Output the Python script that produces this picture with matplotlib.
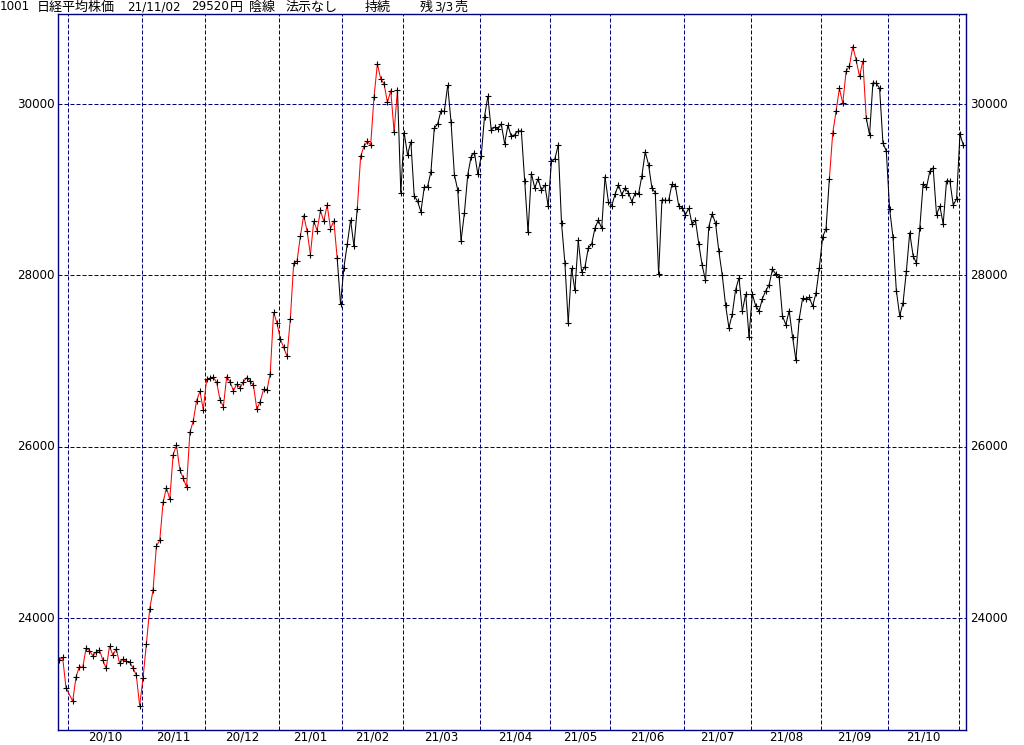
import datetime as dt
import numpy as np
import matplotlib
matplotlib.use("Agg")
import matplotlib.pyplot as plt
from matplotlib.collections import LineCollection

plt.rcParams['font.family'] = ['DejaVu Sans', 'Noto Sans CJK JP']

# ---------------- data (Nikkei 225 daily closes) ----------------
sep20_days = [28, 29, 30]
sep20 = [23511.62, 23539.10, 23185.12]
oct20_days = [2, 5, 6, 7, 8, 9, 12, 13, 14, 15, 16, 19, 20, 21, 22, 23, 26, 27, 28, 29, 30]
oct20 = [23029.90, 23312.14, 23433.73, 23422.82, 23647.07, 23619.69, 23558.69, 23601.78,
         23626.73, 23507.23, 23410.63, 23671.13, 23567.04, 23639.46, 23474.27, 23516.59,
         23494.34, 23485.80, 23418.51, 23331.94, 22977.13]
nov20_days = [2, 4, 5, 6, 9, 10, 11, 12, 13, 16, 17, 18, 19, 20, 24, 25, 26, 27, 30]
nov20 = [23295.48, 23695.23, 24105.28, 24325.23, 24839.84, 24905.59, 25349.60, 25520.88,
         25385.87, 25906.93, 26014.62, 25728.14, 25634.34, 25527.37, 26165.59, 26296.86,
         26537.31, 26644.71, 26433.62]
dec20_days = [1, 2, 3, 4, 7, 8, 9, 10, 11, 14, 15, 16, 17, 18, 21, 22, 23, 24, 25, 28, 29, 30]
dec20 = [26787.54, 26800.98, 26809.37, 26751.24, 26547.44, 26467.08, 26817.94, 26756.24,
         26652.52, 26732.44, 26687.84, 26757.40, 26806.67, 26763.39, 26714.42, 26436.39,
         26524.79, 26668.35, 26656.61, 26854.03, 27568.15, 27444.17]
jan21_days = [4, 5, 6, 7, 8, 12, 13, 14, 15, 18, 19, 20, 21, 22, 25, 26, 27, 28, 29]
jan21 = [27258.38, 27158.63, 27055.94, 27490.13, 28139.03, 28164.34, 28456.59, 28698.26,
         28519.18, 28242.21, 28633.46, 28523.26, 28756.86, 28631.45, 28822.29, 28546.18,
         28635.21, 28197.42, 27663.39]
feb21_days = [1, 2, 3, 4, 5, 8, 9, 10, 12, 15, 16, 17, 18, 19, 22, 24, 25, 26]
feb21 = [28091.05, 28362.17, 28646.50, 28341.95, 28779.19, 29388.50, 29505.93, 29562.93,
         29520.07, 30084.15, 30467.75, 30292.19, 30236.09, 30017.92, 30156.03, 29671.70,
         30168.27, 28966.01]
mar21_days = [1, 2, 3, 4, 5, 8, 9, 10, 11, 12, 15, 16, 17, 18, 19, 22, 23, 24, 25, 26, 29, 30, 31]
mar21 = [29663.50, 29408.17, 29559.10, 28930.11, 28864.32, 28743.25, 29027.94, 29036.56,
         29211.64, 29717.83, 29766.97, 29921.09, 29914.33, 30216.75, 29792.05, 29174.15,
         28995.92, 28405.52, 28729.88, 29176.70, 29384.52, 29432.70, 29178.80]
apr21_days = [1, 2, 5, 6, 7, 8, 9, 12, 13, 14, 15, 16, 19, 20, 21, 22, 23, 26, 27, 28, 30]
apr21 = [29388.87, 29854.00, 30089.25, 29696.63, 29730.79, 29708.98, 29768.06, 29538.73,
         29751.61, 29620.99, 29642.69, 29683.37, 29685.37, 29100.38, 28508.55, 29188.17,
         29020.63, 29126.23, 28991.89, 29053.97, 28812.63]
may21_days = [6, 7, 10, 11, 12, 13, 14, 17, 18, 19, 20, 21, 24, 25, 26, 27, 28, 31]
may21 = [29331.37, 29357.82, 29518.34, 28608.59, 28147.51, 27448.01, 28084.47, 27824.83,
         28406.84, 28044.45, 28098.25, 28317.83, 28364.61, 28553.98, 28642.19, 28549.01,
         29149.41, 28860.08]
jun21_days = [1, 2, 3, 4, 7, 8, 9, 10, 11, 14, 15, 16, 17, 18, 21, 22, 23, 24, 25, 28, 29, 30]
jun21 = [28814.34, 28946.14, 29058.11, 28941.52, 29019.24, 28963.56, 28860.80, 28958.56,
         28948.73, 29161.80, 29441.30, 29291.01, 29018.33, 28964.08, 28010.93, 28884.13,
         28874.89, 28875.23, 29066.18, 29048.02, 28812.61, 28791.53]
jul21_days = [1, 2, 5, 6, 7, 8, 9, 12, 13, 14, 15, 16, 19, 20, 21, 26, 27, 28, 29, 30]
jul21 = [28707.04, 28783.28, 28598.19, 28643.21, 28366.95, 28118.03, 27940.42, 28569.02,
         28718.24, 28608.49, 28279.09, 28003.08, 27652.74, 27388.16, 27548.00, 27833.29,
         27970.22, 27581.66, 27782.42, 27283.59]
aug21_days = [2, 3, 4, 5, 6, 10, 11, 12, 13, 16, 17, 18, 19, 20, 23, 24, 25, 26, 27, 30, 31]
aug21 = [27781.02, 27641.83, 27584.08, 27728.12, 27820.04, 27888.15, 28070.51, 28015.02,
         27977.15, 27523.19, 27424.47, 27585.91, 27281.17, 27013.25, 27494.24, 27732.10,
         27724.80, 27742.29, 27641.14, 27789.29, 28089.54]
sep21_days = [1, 2, 3, 6, 7, 8, 9, 10, 13, 14, 15, 16, 17, 21, 22, 24, 27, 28, 29, 30]
sep21 = [28451.02, 28543.51, 29128.11, 29659.89, 29916.14, 30181.21, 30008.19, 30381.84,
         30447.37, 30670.10, 30511.71, 30323.34, 30500.05, 29839.71, 29639.40, 30248.81,
         30240.06, 30183.96, 29544.29, 29452.66]
oct21_days = [1, 4, 5, 6, 7, 8, 11, 12, 13, 14, 15, 18, 19, 20, 21, 22, 25, 26, 27, 28, 29]
oct21 = [28771.07, 28444.89, 27822.12, 27528.87, 27678.21, 28048.94, 28498.20, 28230.61,
         28140.28, 28550.93, 29068.63, 29025.46, 29215.52, 29255.55, 28708.58, 28804.85,
         28600.41, 29106.01, 29098.24, 28820.09, 28892.69]
nov21_days = [1, 2]
nov21 = [29647.08, 29520.90]

# scheduled session without prices (TSE system outage)
no_price_sessions = [dt.date(2020, 10, 1)]

# periods drawn as the rising (red) signal
up_periods = [(dt.date(2020, 9, 28), dt.date(2021, 1, 28)),
              (dt.date(2021, 2, 5), dt.date(2021, 2, 25)),
              (dt.date(2021, 9, 3), dt.date(2021, 9, 21))]

y_ticks = [24000, 26000, 28000, 30000]
month_labels = ["20/10", "20/11", "20/12", "21/01", "21/02", "21/03", "21/04",
                "21/05", "21/06", "21/07", "21/08", "21/09", "21/10"]
header = [("1001", 0), ("日経平均株価", 37), ("21/11/02", 127), ("29520", 191), ("円", 230),
          ("陰線", 249), ("法示なし", 285), ("持続", 365), ("残", 420), ("3/3", 434),
          ("売", 454)]

# ---------------- assemble ----------------
blocks = [(2020, 9, sep20_days, sep20), (2020, 10, oct20_days, oct20),
          (2020, 11, nov20_days, nov20), (2020, 12, dec20_days, dec20),
          (2021, 1, jan21_days, jan21), (2021, 2, feb21_days, feb21),
          (2021, 3, mar21_days, mar21), (2021, 4, apr21_days, apr21),
          (2021, 5, may21_days, may21), (2021, 6, jun21_days, jun21),
          (2021, 7, jul21_days, jul21), (2021, 8, aug21_days, aug21),
          (2021, 9, sep21_days, sep21), (2021, 10, oct21_days, oct21),
          (2021, 11, nov21_days, nov21)]
dates, closes = [], []
for y, m, ds, vs in blocks:
    for d, v in zip(ds, vs):
        dates.append(dt.date(y, m, d))
        closes.append(v)
closes = np.array(closes)

slots = sorted(dates + no_price_sessions)
slot_of = {d: i for i, d in enumerate(slots)}
x = np.array([slot_of[d] for d in dates], dtype=float)


def is_up(d):
    return any(a <= d <= b for a, b in up_periods)


segs, cols = [], []
for i in range(len(dates) - 1):
    segs.append([(x[i], closes[i]), (x[i + 1], closes[i + 1])])
    cols.append('#ff0000' if (is_up(dates[i]) and is_up(dates[i + 1])) else '#000000')

# month boundaries (first session of each month)
month_first = []
seen = set()
for d in slots:
    key = (d.year, d.month)
    if key not in seen:
        seen.add(key)
        month_first.append(slot_of[d])
month_first = month_first[1:]  # skip partial Sep 2020
grid_x = [s - 0.42 for s in month_first]

# ---------------- figure ----------------
W, H = 1024, 745
fig = plt.figure(figsize=(W / 100, H / 100), dpi=100)
L, R, T, B = 58, 966, 14, 730
ax = fig.add_axes([L / W, 1 - B / H, (R - L) / W, (B - T) / H])

n_last = len(slots) - 1
px_per = (963.3 - 59.3) / n_last
ax.set_xlim(-(59.3 - L) / px_per, n_last + (R - 963.3) / px_per)
v_per = 6000 / (618 - 104)
ax.set_ylim(24000 - (B - 618) * v_per, 30000 + (104 - T) * v_per)

navy = '#000080'
for gx in grid_x:
    ax.axvline(gx, color=navy, lw=0.72, linestyle=(0, (4, 2)), zorder=1)
for gy in y_ticks:
    ax.axhline(gy, color=navy, lw=0.72, linestyle=(0, (4, 2)), zorder=1)

ax.add_collection(LineCollection(segs, colors=cols, linewidths=0.75, zorder=2))
ax.plot(x, closes, linestyle='none', marker='+', markersize=3.8, mew=0.8,
        color='black', zorder=3)

ax.set_xticks([])
ax.set_yticks([])
for s in ax.spines.values():
    s.set_color(navy)
    s.set_linewidth(1.0)

# y labels both sides
for gy in y_ticks:
    yf = 1 - (104 + (30000 - gy) / v_per) / H
    fig.text(55 / W, yf, f"{gy}", ha='right', va='center', fontsize=8.6, color='black')
    fig.text(970 / W, yf, f"{gy}", ha='left', va='center', fontsize=8.6, color='black')

# month labels centred between month lines
xmin, xmax = ax.get_xlim()
def xpix(v):
    return L + (v - xmin) / (xmax - xmin) * (R - L)
for k, lab in enumerate(month_labels):
    c = (xpix(grid_x[k]) + xpix(grid_x[k + 1])) / 2
    fig.text(c / W, 1 - 737.5 / H, lab, ha='center', va='center', fontsize=8.6)

for txt, px in header:
    is_cjk = any(ord(ch) > 0x3000 for ch in txt)
    fig.text(px / W, 1 - 7 / H, txt, ha='left', va='center',
             fontsize=9.4 if is_cjk else 8.6)

fig.savefig("out.png", dpi=100, facecolor='white')
